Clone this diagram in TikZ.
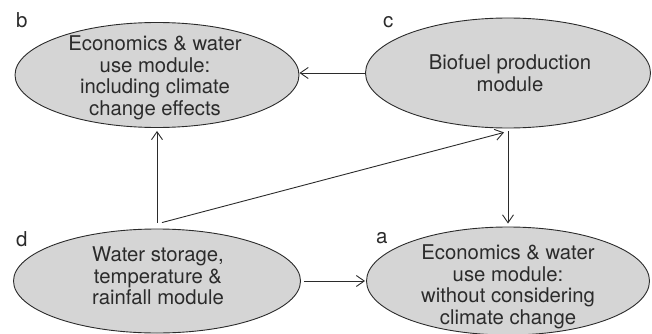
\documentclass[tikz,border=0pt]{standalone}
\usepackage{fontspec}
\setmainfont{TeX Gyre Heros}
\usetikzlibrary{shapes.geometric,arrows.meta}
\definecolor{inkc}{HTML}{2B2B2B}
\definecolor{fillc}{HTML}{D5D5D5}
\begin{document}
\begin{tikzpicture}[x=1pt,y=-1pt,
  module/.style={ellipse,draw=inkc,fill=fillc,line width=0.9pt,inner sep=0pt},
  modtext/.style={align=center,text=inkc,font=\fontsize{20.3}{21.6}\selectfont,inner sep=0pt},
  tag/.style={anchor=base west,text=inkc,font=\fontsize{20.5}{22}\selectfont,inner sep=0pt},
  arr/.style={draw=inkc,line width=0.9pt,-{Straight Barb[length=8pt,width=11pt]}}]
\useasboundingbox (0,0) rectangle (652,334);
% ellipses
\node[module,minimum width=284pt,minimum height=105pt] (b) at (157,75) {};
\node[module,minimum width=285pt,minimum height=110pt] (c) at (508,73) {};
\node[module,minimum width=287pt,minimum height=104pt] (d) at (157,281) {};
\node[module,minimum width=283pt,minimum height=108pt] (a) at (508,281) {};
% texts
\node[modtext] (bt) at (155,78) {Economics \& water\\use module:\\including climate\\change effects};
\node[modtext] (ct) at (510,73) {Biofuel production\\module};
\node[modtext] (dt) at (158,276) {Water storage,\\temperature \&\\rainfall module};
\node[modtext] (at) at (508,287) {Economics \& water\\use module:\\without considering\\climate change};
% tags
\node[tag] (lb) at (16,28) {b};
\node[tag] (lc) at (383,28) {c};
\node[tag] (ld) at (16,246) {d};
\node[tag] (la) at (376,243) {a};
% connectors
\draw[arr] (c.west) -- (c.west -| b.east);
\draw[arr] ([yshift=6pt]d.north) -- ([yshift=-3pt]b.south);
\draw[arr] ([xshift=5pt,yshift=6pt]d.north) -- ([xshift=-4pt,yshift=-4pt]c.south);
\draw[arr] ([yshift=-3pt]c.south) -- ([yshift=3pt]a.north);
\draw[arr] ([xshift=3pt]d.east) -- ([xshift=-1pt]d.east -| a.west);
\end{tikzpicture}
\end{document}
